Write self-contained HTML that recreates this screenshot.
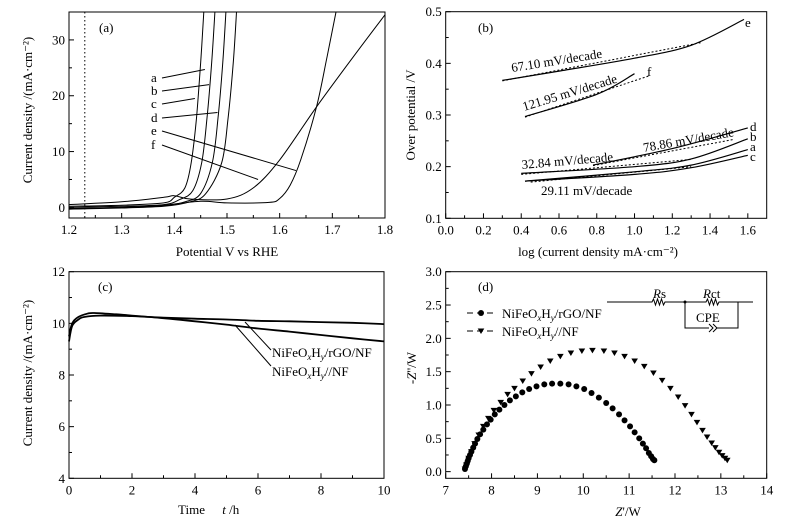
<!DOCTYPE html>
<html><head><meta charset="utf-8"><style>
html,body{margin:0;padding:0;background:#fff}
svg{display:block;font-family:"Liberation Serif",serif}
text{fill:#000}
</style></head><body>
<svg id="fig" width="792" height="528" viewBox="0 0 792 528" xmlns="http://www.w3.org/2000/svg">
<g id="g-a"></g>
<g id="g-b"></g>
<g id="g-c"></g>
<g id="g-d"></g>
</svg>
<script>
// ---------- Panel (a) data ----------
const aXTicks = [1.2,1.3,1.4,1.5,1.6,1.7,1.8];
const aYTicks = [0,10,20,30];
const aCurveA = [[1.2,0.2],[1.3,0.4],[1.38,0.8],[1.4,1.8],[1.42,3.5],[1.432,8],[1.442,16],[1.45,26],[1.456,35]];
const aCurveB = [[1.2,0],[1.3,0.2],[1.38,0.5],[1.41,1.4],[1.435,3],[1.452,8],[1.462,16],[1.471,26],[1.477,35]];
const aCurveC = [[1.2,-0.2],[1.3,0],[1.38,0.3],[1.42,1],[1.45,2.5],[1.472,8],[1.483,16],[1.492,26],[1.498,35]];
const aCurveD = [[1.2,-0.3],[1.3,-0.1],[1.38,0.2],[1.43,1],[1.46,2.5],[1.49,8],[1.502,16],[1.512,26],[1.518,35]];
const aCurveE = [[1.2,-0.3],[1.3,0],[1.38,0.4],[1.45,1.1],[1.5,0.8],[1.58,0.9],[1.6,1.6],[1.62,4],[1.64,8.5],[1.67,18],[1.69,27],[1.707,35]];
const aCurveF = [[1.2,0.5],[1.3,1],[1.38,1.8],[1.4,2.1],[1.43,1.5],[1.5,1.5],[1.55,3.5],[1.6,8.5],[1.67,18],[1.74,27],[1.8,34.5]];
// ---------- Panel (b) data ----------
const bXTicks = [0.0,0.2,0.4,0.6,0.8,1.0,1.2,1.4,1.6];
const bYTicks = [0.1,0.2,0.3,0.4,0.5];
const bLineE = [[0.3,0.367],[0.6,0.385],[1.0,0.41],[1.3,0.435],[1.58,0.485]];
const bFitE = [[0.3,0.366],[1.35,0.44]];
const bLineF = [[0.42,0.297],[0.8,0.34],[1.0,0.38]];
const bFitF = [[0.42,0.296],[1.08,0.376]];
const bLineD = [[0.78,0.203],[1.2,0.235],[1.6,0.275]];
const bFitD = [[0.78,0.202],[1.53,0.253]];
const bLineB = [[0.4,0.187],[1.0,0.2],[1.3,0.215],[1.6,0.254]];
const bFitB = [[0.4,0.185],[1.3,0.214]];
const bLineA = [[0.42,0.172],[1.0,0.19],[1.3,0.203],[1.6,0.233]];
const bLineC = [[0.42,0.172],[1.0,0.185],[1.3,0.198],[1.6,0.222]];
const bFitC = [[0.45,0.17],[1.3,0.2]];
// ---------- Panel (c) data ----------
const cXTicks = [0,2,4,6,8,10];
const cYTicks = [4,6,8,10,12];
const cRGO = [[0,9.3],[0.1,9.9],[0.3,10.15],[0.5,10.25],[1,10.3],[2,10.28],[3,10.22],[4,10.18],[5,10.15],[6,10.1],[7,10.08],[8,10.05],[9,10.02],[10,9.97]];
const cNF = [[0,9.5],[0.1,10.0],[0.3,10.25],[0.6,10.38],[0.8,10.4],[1.5,10.35],[2,10.3],[3,10.2],[4,10.08],[5,9.95],[6,9.8],[7,9.68],[8,9.55],[9,9.42],[10,9.3]];
// ---------- Panel (d) data ----------
const dXTicks = [7,8,9,10,11,12,13,14];
const dYTicks = [0.0,0.5,1.0,1.5,2.0,2.5,3.0];
const dRGO = [[7.42,0.04],[7.44,0.08],[7.46,0.12],[7.48,0.16],[7.5,0.2],[7.53,0.25],[7.56,0.3],[7.6,0.36],[7.64,0.42],[7.69,0.49],[7.75,0.56],[7.82,0.63],[7.9,0.71],[7.98,0.78],[8.07,0.86],[8.17,0.93],[8.28,1.0],[8.4,1.07],[8.53,1.13],[8.67,1.19],[8.82,1.24],[8.98,1.28],[9.15,1.31],[9.32,1.32],[9.5,1.32],[9.68,1.31],[9.85,1.28],[10.02,1.24],[10.18,1.18],[10.34,1.11],[10.5,1.03],[10.64,0.95],[10.78,0.86],[10.9,0.77],[11.02,0.68],[11.12,0.59],[11.22,0.5],[11.3,0.42],[11.37,0.35],[11.43,0.28],[11.48,0.23],[11.52,0.19],[11.55,0.17]];
const dNF = [[7.42,0.04],[7.45,0.1],[7.5,0.2],[7.56,0.3],[7.63,0.42],[7.72,0.55],[7.82,0.68],[7.93,0.8],[8.05,0.92],[8.2,1.04],[8.35,1.16],[8.5,1.25],[8.68,1.36],[8.87,1.47],[9.07,1.57],[9.28,1.66],[9.5,1.73],[9.73,1.78],[9.97,1.81],[10.2,1.82],[10.45,1.81],[10.68,1.78],[10.9,1.73],[11.12,1.66],[11.33,1.58],[11.53,1.48],[11.72,1.37],[11.9,1.25],[12.07,1.12],[12.22,0.99],[12.36,0.86],[12.48,0.74],[12.6,0.62],[12.7,0.52],[12.8,0.43],[12.88,0.36],[12.96,0.29],[13.03,0.24],[13.09,0.2],[13.14,0.17]];

const NS = "http://www.w3.org/2000/svg";
function mk(parent, tag, attrs, txt){
  const e = document.createElementNS(NS, tag);
  for (const k in attrs) e.setAttribute(k, attrs[k]);
  if (txt !== undefined) e.textContent = txt;
  parent.appendChild(e);
  return e;
}
function scale(d0,d1,r0,r1){ return v => r0 + (v-d0)/(d1-d0)*(r1-r0); }

function axes(g, box, xd, yd, xt, yt, xfmt, yfmt){
  const sx = scale(xd[0],xd[1],box.x0,box.x1);
  const sy = scale(yd[0],yd[1],box.y1,box.y0);
  const fr = mk(g,'rect',{x:box.x0,y:box.y0,width:box.x1-box.x0,height:box.y1-box.y0,fill:'none',stroke:'#000','stroke-width':1});
  
  
  xt.forEach(v=>{
    const x = sx(v);
    const t = mk(g,'line',{x1:x,x2:x,y1:box.y1,y2:box.y1-5,stroke:'#000'});
    
    
    const l = mk(g,'text',{x:x,y:box.y1+16,'font-size':13,'text-anchor':'middle'},xfmt(v));
    
    
  });
  for (let i=0;i<xt.length-1;i++){
    const x = sx((xt[i]+xt[i+1])/2);
    const t = mk(g,'line',{x1:x,x2:x,y1:box.y1,y2:box.y1-3,stroke:'#000'});
    
    
  }
  yt.forEach(v=>{
    const y = sy(v);
    const t = mk(g,'line',{x1:box.x0,x2:box.x0+5,y1:y,y2:y,stroke:'#000'});
    
    
    const l = mk(g,'text',{x:box.x0-4,y:y+4.5,'font-size':13,'text-anchor':'end'},yfmt(v));
    
    
  });
  for (let i=0;i<yt.length-1;i++){
    const y = sy((yt[i]+yt[i+1])/2);
    const t = mk(g,'line',{x1:box.x0,x2:box.x0+3,y1:y,y2:y,stroke:'#000'});
    
    
  }
  return {sx,sy};
}
function path(g, pts, s, name, extra, smooth){
  const P = pts.map(p=>[s.sx(p[0]), s.sy(p[1])]);
  let d = 'M'+P[0][0].toFixed(1)+' '+P[0][1].toFixed(1);
  for (let i=1;i<P.length;i++){
    if (smooth){
      const p0=P[Math.max(i-2,0)], p1=P[i-1], p2=P[i], p3=P[Math.min(i+1,P.length-1)];
      const c1=[p1[0]+(p2[0]-p0[0])/6, p1[1]+(p2[1]-p0[1])/6];
      const c2=[p2[0]-(p3[0]-p1[0])/6, p2[1]-(p3[1]-p1[1])/6];
      d += ` C${c1[0].toFixed(1)} ${c1[1].toFixed(1)} ${c2[0].toFixed(1)} ${c2[1].toFixed(1)} ${p2[0].toFixed(1)} ${p2[1].toFixed(1)}`;
    } else d += ' L'+P[i][0].toFixed(1)+' '+P[i][1].toFixed(1);
  }
  const a = Object.assign({d:d,fill:'none',stroke:'#000','stroke-width':1,'stroke-linejoin':'round'}, extra||{});
  const e = mk(g,'path',a);
  
  
  return e;
}
function txt(g,x,y,s,name,attrs){
  const e = mk(g,'text',Object.assign({x:x,y:y,'font-size':13},attrs||{}),s);
  
  
  return e;
}
function seg(g,x1,y1,x2,y2,name,extra){
  const e = mk(g,'line',Object.assign({x1,y1,x2,y2,stroke:'#000','stroke-width':1},extra||{}));
  
  
  return e;
}
function clipFor(g,id,box){
  const cp = mk(g,'clipPath',{id:id});
  mk(cp,'rect',{x:box.x0,y:box.y0,width:box.x1-box.x0,height:box.y1-box.y0});
  const cg = mk(g,'g',{'clip-path':'url(#'+id+')'});
  
  
  return cg;
}

// ---------- (a) ----------
(function(){
  const g = document.getElementById('g-a');
  const box = {x0:69,x1:385,y0:12,y1:218};
  const s = axes(g,box,[1.2,1.8],[-1.9,35],aXTicks,aYTicks,v=>v.toFixed(1),v=>String(v));
  const cg = clipFor(g,'clipA',box);
  seg(cg,s.sx(1.23),box.y0,s.sx(1.23),box.y1,'reference-potential-line',{'stroke-dasharray':'1.5,2.5'});
  path(cg,aCurveA,s,'curve-a',null,true);
  path(cg,aCurveB,s,'curve-b',null,true);
  path(cg,aCurveC,s,'curve-c',null,true);
  path(cg,aCurveD,s,'curve-d',null,true);
  path(cg,aCurveE,s,'curve-e',null,true);
  path(cg,aCurveF,s,'curve-f',null,true);
  txt(g,99,32,'(a)','panel-a-label');
  const labs=[['a',78,1.458,24.7],['b',91,1.466,22],['c',104,1.439,19.5],['d',118,1.482,17],['e',131,1.631,6.6],['f',145,1.559,5]];
  labs.forEach(L=>{
    txt(g,151,L[1]+4,L[0],'curve-label-'+L[0]);
    seg(g,162,L[1],s.sx(L[2]),s.sy(L[3]),'label-pointer-'+L[0]);
  });
  txt(g,227,256,'Potential V vs RHE','x-axis-title',{'text-anchor':'middle'});
  txt(g,0,0,'Current density /(mA·cm⁻²)','y-axis-title',{'text-anchor':'middle',transform:'translate(32,110) rotate(-90)'});
})();

// ---------- (b) ----------
(function(){
  const g = document.getElementById('g-b');
  const box = {x0:445.7,x1:766.7,y0:11.7,y1:218.3};
  const s = axes(g,box,[0,1.7],[0.1,0.5],bXTicks,bYTicks,v=>v.toFixed(1),v=>v.toFixed(1));
  const dash = {'stroke-dasharray':'2,2'};
  path(g,bFitE,s,'fit-e',dash); path(g,bLineE,s,'tafel-e',{'stroke-width':1.2},true);
  path(g,bFitF,s,'fit-f',dash); path(g,bLineF,s,'tafel-f',{'stroke-width':1.2},true);
  path(g,bFitD,s,'fit-d',dash); path(g,bLineD,s,'tafel-d',{'stroke-width':1.2},true);
  path(g,bFitB,s,'fit-b',dash); path(g,bLineB,s,'tafel-b',{'stroke-width':1.2},true);
  path(g,bLineA,s,'tafel-a',{'stroke-width':1.2},true);
  path(g,bFitC,s,'fit-c',dash); path(g,bLineC,s,'tafel-c',{'stroke-width':1.2},true);
  txt(g,478,32,'(b)','panel-b-label');
  txt(g,745,27,'e','curve-label-e');
  txt(g,647,76,'f','curve-label-f');
  txt(g,750,131,'d','curve-label-d');
  txt(g,750,141,'b','curve-label-b');
  txt(g,750,151,'a','curve-label-a');
  txt(g,750,161,'c','curve-label-c');
  txt(g,0,0,'67.10 mV/decade','slope-label-e',{transform:'translate(512,72) rotate(-9)'});
  txt(g,0,0,'121.95 mV/decade','slope-label-f',{transform:'translate(524,111) rotate(-17)'});
  txt(g,0,0,'32.84 mV/decade','slope-label-low',{transform:'translate(522,169) rotate(-5)'});
  txt(g,0,0,'78.86 mV/decade','slope-label-d',{transform:'translate(644,152) rotate(-10)'});
  txt(g,541,195,'29.11 mV/decade','slope-label-c');
  txt(g,598,256,'log (current density mA·cm⁻²)','x-axis-title',{'text-anchor':'middle'});
  txt(g,0,0,'Over potential /V','y-axis-title',{'text-anchor':'middle',transform:'translate(415,115) rotate(-90)'});
})();

// ---------- (c) ----------
(function(){
  const g = document.getElementById('g-c');
  const box = {x0:69,x1:384,y0:271.7,y1:478.3};
  const s = axes(g,box,[0,10],[4,12],cXTicks,cYTicks,v=>String(v),v=>String(v));
  path(g,cRGO,s,'series-rgo-nf',{'stroke-width':1.8},true);
  path(g,cNF,s,'series-nf',{'stroke-width':1.8},true);
  txt(g,98,291,'(c)','panel-c-label');
  seg(g,245,322,271,350,'pointer-rgo');
  seg(g,235,325,271,366,'pointer-nf');
  const t1 = txt(g,272,357,'','legend-rgo-nf');
  t1.innerHTML = 'NiFeO<tspan font-size="9" font-style="italic" dy="3">x</tspan><tspan dy="-3">H</tspan><tspan font-size="9" font-style="italic" dy="3">y</tspan><tspan dy="-3">/rGO/NF</tspan>';
  const t2 = txt(g,272,376,'','legend-nf');
  t2.innerHTML = 'NiFeO<tspan font-size="9" font-style="italic" dy="3">x</tspan><tspan dy="-3">H</tspan><tspan font-size="9" font-style="italic" dy="3">y</tspan><tspan dy="-3">//NF</tspan>';
  const xt = txt(g,178,514,'','x-axis-title');
  xt.innerHTML = 'Time <tspan dx="14" font-style="italic">t</tspan> /h';
  txt(g,0,0,'Current density /(mA·cm⁻²)','y-axis-title',{'text-anchor':'middle',transform:'translate(32,373) rotate(-90)'});
})();

// ---------- (d) ----------
(function(){
  const g = document.getElementById('g-d');
  const box = {x0:445.7,x1:766.7,y0:271.7,y1:478.3};
  const s = axes(g,box,[7,14],[-0.1,3.0],dXTicks,dYTicks,v=>String(v),v=>v.toFixed(1));
  dRGO.forEach(p=>{
    const c = mk(g,'circle',{cx:s.sx(p[0]),cy:s.sy(p[1]),r:3,fill:'#000'});
    
    
  });
  dNF.forEach(p=>{
    const x=s.sx(p[0]), y=s.sy(p[1]);
    const c = mk(g,'path',{d:`M${x-3.3} ${y-2.5} L${x+3.3} ${y-2.5} L${x} ${y+3} Z`,fill:'#000'});
    
    
  });
  txt(g,478,291,'(d)','panel-d-label');
  seg(g,467,313,497,313,'legend-line-rgo',{'stroke-dasharray':'6,4'});
  const lc = mk(g,'circle',{cx:481,cy:313,r:3,fill:'#000'});
  
  
  seg(g,467,331,497,331,'legend-line-nf',{'stroke-dasharray':'6,4'});
  const lt = mk(g,'path',{d:'M477.7 328.5 L484.3 328.5 L481 334 Z',fill:'#000'});
  
  
  const l1 = txt(g,502,318,'','legend-text-rgo');
  l1.innerHTML = 'NiFeO<tspan font-size="9" font-style="italic" dy="3">x</tspan><tspan dy="-3">H</tspan><tspan font-size="9" font-style="italic" dy="3">y</tspan><tspan dy="-3">/rGO/NF</tspan>';
  const l2 = txt(g,502,336,'','legend-text-nf');
  l2.innerHTML = 'NiFeO<tspan font-size="9" font-style="italic" dy="3">x</tspan><tspan dy="-3">H</tspan><tspan font-size="9" font-style="italic" dy="3">y</tspan><tspan dy="-3">//NF</tspan>';
  const cc = mk(g,'g',{});
  
  
  const w = mk(cc,'path',{d:'M607 302 L652 302 l1.5 -3 l2 6 l2 -6 l2 6 l2 -6 l2 6 l1.5 -3 L706 302 l1.5 -3 l2 6 l2 -6 l2 6 l2 -6 l2 6 l1.5 -3 L753 302 M685 302 L685 328 L709 328 M717 328 L738 328 L738 302 M709 324 l4 4 l-4 4 M713 324 l4 4 l-4 4',fill:'none',stroke:'#000','stroke-width':1});
  
  
  const n = mk(cc,'circle',{cx:685,cy:302,r:1.5,fill:'#000'});
  
  
  const r1 = txt(cc,653,298,'','label-rs');
  r1.innerHTML='<tspan font-style="italic">R</tspan>s';
  const r2 = txt(cc,703,298,'','label-rct');
  r2.innerHTML='<tspan font-style="italic">R</tspan>ct';
  txt(cc,696,322,'CPE','label-cpe');
  const xt = txt(g,628,516,'','x-axis-title',{'text-anchor':'middle'});
  xt.innerHTML = '<tspan font-style="italic">Z</tspan>\'/W';
  const yt = txt(g,0,0,'','y-axis-title',{'text-anchor':'middle',transform:'translate(416,368) rotate(-90)'});
  yt.innerHTML = '-<tspan font-style="italic">Z</tspan>\'\'/W';
})();
</script>
</body></html>
